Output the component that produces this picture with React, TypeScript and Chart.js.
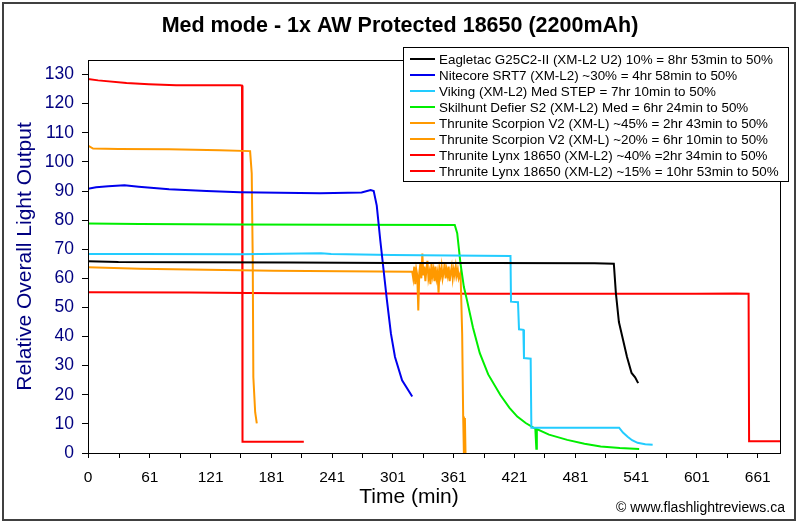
import { useEffect, useRef } from 'react';
import { Chart, registerables } from 'chart.js';

Chart.register(...registerables);

const TITLE = 'Med mode - 1x AW Protected 18650 (2200mAh)';
const X_TITLE = 'Time (min)';
const Y_TITLE = 'Relative Overall Light Output';
const CREDIT = '\u00A9 www.flashlightreviews.ca';

const X_MAX = 683;
const Y_MAX = 135;
const X_TICKS = [0, 31, 61, 91, 121, 151, 181, 211, 241, 271, 301, 331, 361, 391, 421, 451, 481, 511, 541, 571, 601, 631, 661];
const X_LABELED = [0, 61, 121, 181, 241, 301, 361, 421, 481, 541, 601, 661];
const Y_TICKS = [0, 10, 20, 30, 40, 50, 60, 70, 80, 90, 100, 110, 120, 130];

const SERIES_NAMES = [
  'Eagletac G25C2-II (XM-L2 U2) 10% = 8hr 53min to 50%',
  'Nitecore SRT7 (XM-L2) ~30% = 4hr 58min to 50%',
  'Viking (XM-L2) Med STEP = 7hr 10min to 50%',
  'Skilhunt Defier S2 (XM-L2) Med = 6hr 24min to 50%',
  'Thrunite Scorpion V2 (XM-L) ~45% = 2hr 43min to 50%',
  'Thrunite Scorpion V2 (XM-L) ~20% = 6hr 10min to 50%',
  'Thrunite Lynx 18650 (XM-L2) ~40% =2hr 34min to 50%',
  'Thrunite Lynx 18650 (XM-L2) ~15% = 10hr 53min to 50%',
];
const SERIES_COLORS = ['#000000', '#0000EE', '#22CCFF', '#00EE00', '#FF9900', '#FF9900', '#FF0000', '#FF0000'];

// Eagletac (black)
const eagletacT = [0, 30, 100, 200, 300, 400, 500, 519, 521, 524, 528, 532, 536.5, 540, 543];
const eagletacV = [65.9, 65.6, 65.5, 65.4, 65.3, 65.3, 65.2, 65.0, 55, 45, 39, 33, 27.5, 26, 24];

// Nitecore SRT7 (blue)
const nitecoreT = [0, 8, 20, 36, 50, 80, 117, 150, 229, 270, 279, 282, 285, 288.5, 292, 295, 299, 303, 310, 320];
const nitecoreV = [90.8, 91.3, 91.6, 92.0, 91.5, 90.6, 90.0, 89.6, 89.2, 89.5, 90.3, 90.0, 85, 73, 62, 52.6, 41, 33, 25, 19.4];

// Viking (light blue)
const vikingT = [0, 51, 150, 230, 240, 300, 417, 417.5, 424.4, 425.4, 429.7, 430.3, 436.9, 437.6, 524.2, 528, 532.6, 537, 542.4, 550, 557.3];
const vikingV = [68.4, 68.4, 68.3, 68.6, 68.4, 68.0, 67.7, 52.0, 51.8, 42.5, 42.3, 32.6, 32.4, 8.7, 8.7, 7.0, 5.6, 4.4, 3.5, 3.0, 2.8];

// Skilhunt (green)
const skilhuntT = [0, 51, 150, 250, 362, 364.4, 367.6, 371, 374, 380, 386.7, 395, 407, 416, 423.7, 432, 440, 441.5, 442.5, 443, 455, 473, 490, 506, 525, 544];
const skilhuntV = [78.8, 78.7, 78.5, 78.4, 78.3, 75.5, 65.2, 57, 52.6, 43, 34.3, 27, 19.9, 15.5, 12.5, 10.3, 8.6, 8.4, 1.5, 8.2, 6.3, 4.5, 3.2, 2.2, 1.7, 1.4];

// Scorpion ~45% (orange)
const scorpion45T = [0, 5, 30, 80, 130, 160, 161.6, 162.6, 163.2, 165, 166.6];
const scorpion45V = [105.6, 104.6, 104.4, 104.3, 104.0, 103.7, 96, 66, 26, 14, 10.2];

// Scorpion ~20% (orange)
const scorpion20T = [0, 51, 183, 250, 320, 321, 322, 323, 324, 325, 326, 327, 328, 329, 330, 331, 332, 333, 334, 335, 336, 337, 338, 339, 340, 341, 342, 343, 344, 345, 346, 347, 348, 349, 350, 351, 352, 353, 354, 355, 356, 357, 358, 359, 360, 361, 362, 363, 364, 365, 366, 367.7, 369.3, 370.3, 371, 372, 372.6];
const scorpion20V = [63.8, 63.3, 62.6, 62.4, 62.3, 60, 64, 58, 63, 61, 49, 62, 65, 60, 68.5, 61, 64, 59, 63, 66, 60, 62, 58, 65, 61, 63, 59, 64, 60, 62, 55, 63, 61, 64, 60, 62, 65, 60, 63, 61, 64, 59, 62, 64, 60, 63, 61, 64, 61, 63, 60, 62, 41, 12.5, 0, 12, 0];

// Lynx ~40% (red)
const lynx40T = [0, 10, 38, 60, 87, 150, 152, 152.5, 213];
const lynx40V = [128.5, 128.0, 127.1, 126.7, 126.3, 126.3, 126.2, 3.9, 3.9];

// Lynx ~15% (red)
const lynx15T = [0, 100, 188, 400, 600, 640, 652, 652.5, 683];
const lynx15V = [55.2, 55.1, 54.9, 54.7, 54.7, 54.8, 54.7, 4.0, 4.0];

const SERIES_T = [eagletacT, nitecoreT, vikingT, skilhuntT, scorpion45T, scorpion20T, lynx40T, lynx15T];
const SERIES_V = [eagletacV, nitecoreV, vikingV, skilhuntV, scorpion45V, scorpion20V, lynx40V, lynx15V];

const FONT = 'Arial, "Liberation Sans", Helvetica, sans-serif';

const decorPlugin = {
  id: 'decor',
  beforeDraw(chart: any) {
    const ctx = chart.ctx;
    ctx.save();
    ctx.fillStyle = '#ffffff';
    ctx.fillRect(0, 0, chart.width, chart.height);
    ctx.restore();
  },
  afterDraw(chart: any) {
    const ctx = chart.ctx;
    const a = chart.chartArea;
    ctx.save();
    // plot frame
    ctx.strokeStyle = '#000000';
    ctx.lineWidth = 1;
    ctx.strokeRect(Math.round(a.left) + 0.5, Math.round(a.top) + 0.5, Math.round(a.right - a.left), Math.round(a.bottom - a.top));
    // outer frame
    ctx.strokeStyle = '#404040';
    ctx.lineWidth = 2;
    ctx.strokeRect(3, 3, 792, 517);
    // title
    ctx.fillStyle = '#000000';
    ctx.font = `bold 21.5px ${FONT}`;
    ctx.textAlign = 'center';
    ctx.textBaseline = 'middle';
    ctx.fillText(TITLE, 400, 26);
    // x title
    ctx.font = `21px ${FONT}`;
    ctx.fillText(X_TITLE, 409, 497);
    // y title
    ctx.save();
    ctx.translate(25, (a.top + a.bottom) / 2);
    ctx.rotate(-Math.PI / 2);
    ctx.fillStyle = '#000080';
    ctx.fillText(Y_TITLE, 0, 0);
    ctx.restore();
    // credit
    ctx.font = `14px ${FONT}`;
    ctx.textAlign = 'right';
    ctx.fillStyle = '#000000';
    ctx.fillText(CREDIT, 785, 508);
    // legend
    const lx = 403, ly = 47, lw = 385, lh = 134;
    ctx.fillStyle = '#ffffff';
    ctx.fillRect(lx, ly, lw, lh);
    ctx.strokeStyle = '#000000';
    ctx.lineWidth = 1;
    ctx.strokeRect(lx + 0.5, ly + 0.5, lw, lh);
    ctx.font = `13.4px ${FONT}`;
    ctx.textAlign = 'left';
    ctx.textBaseline = 'middle';
    SERIES_NAMES.forEach((name, i) => {
      const y = 59 + i * 16;
      ctx.strokeStyle = SERIES_COLORS[i];
      ctx.lineWidth = 2;
      ctx.beginPath();
      ctx.moveTo(410, y);
      ctx.lineTo(435, y);
      ctx.stroke();
      ctx.fillStyle = '#000000';
      ctx.fillText(name, 439, y + 1);
    });
    ctx.restore();
  },
};

export default function App() {
  const ref = useRef<HTMLCanvasElement | null>(null);
  useEffect(() => {
    if (!ref.current) return;
    const datasets = SERIES_NAMES.map((name, i) => ({
      label: name,
      data: SERIES_T[i].map((t, j) => ({ x: t, y: SERIES_V[i][j] })),
      borderColor: SERIES_COLORS[i],
      backgroundColor: SERIES_COLORS[i],
      borderWidth: 2,
      pointRadius: 0,
      tension: 0,
      fill: false,
    }));
    const chart = new Chart(ref.current, {
      type: 'line',
      data: { datasets },
      plugins: [decorPlugin],
      options: {
        animation: false,
        responsive: false,
        maintainAspectRatio: false,
        layout: { padding: { top: 60, right: 20, left: 0, bottom: 0 } },
        plugins: { legend: { display: false }, title: { display: false }, tooltip: { enabled: false } },
        scales: {
          x: {
            type: 'linear',
            min: 0,
            max: X_MAX,
            afterBuildTicks: (s: any) => {
              s.ticks = X_TICKS.map((v) => ({ value: v }));
            },
            afterFit: (s: any) => {
              s.height = 71;
            },
            ticks: {
              autoSkip: false,
              maxRotation: 0,
              padding: 10,
              color: '#000000',
              font: { family: FONT, size: 15.5 },
              callback: (v: any) => (X_LABELED.includes(Number(v)) ? String(v) : ''),
            },
            grid: { drawOnChartArea: false, drawTicks: true, tickLength: 5, color: '#000000' },
            border: { display: true, color: '#000000' },
          },
          y: {
            min: 0,
            max: Y_MAX,
            afterBuildTicks: (s: any) => {
              s.ticks = Y_TICKS.map((v) => ({ value: v }));
            },
            afterFit: (s: any) => {
              s.width = 88;
            },
            ticks: {
              autoSkip: false,
              padding: 8,
              color: '#000080',
              font: { family: FONT, size: 17.5 },
            },
            grid: { drawOnChartArea: false, drawTicks: true, tickLength: 6, color: '#000000' },
            border: { display: true, color: '#000000' },
          },
        },
      },
    } as any);
    return () => chart.destroy();
  }, []);
  return (
    <canvas
      ref={ref}
      width={800}
      height={524}
      style={{ position: 'fixed', left: 0, top: 0, width: 800, height: 524, display: 'block' }}
    />
  );
}
